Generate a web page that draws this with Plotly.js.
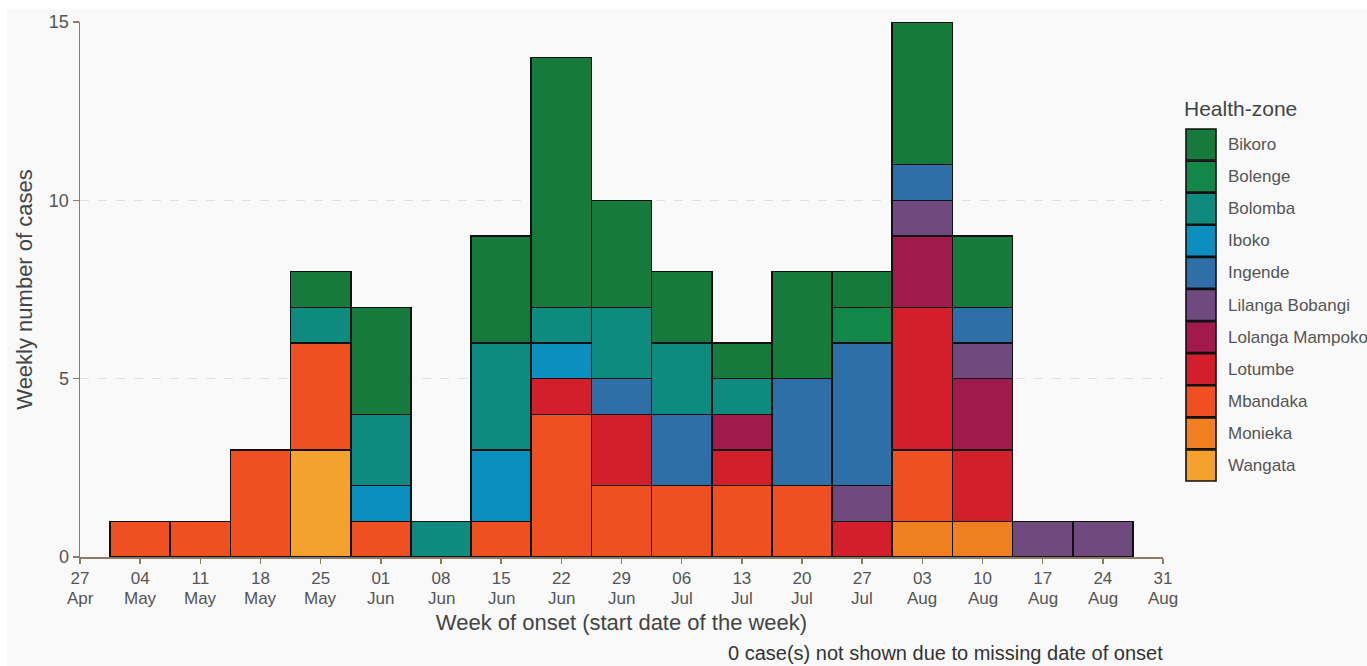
<!DOCTYPE html>
<html>
<head>
<meta charset="utf-8">
<script src="https://cdn.plot.ly/plotly-3.0.1.min.js"></script>
<style>html,body{margin:0;padding:0;background:#fff;}#chart{width:1367px;height:666px;}</style>
</head>
<body>
<div id="chart"></div>
<script>
// ---- Data ----
const weeks = ['2020-05-04','2020-05-11','2020-05-18','2020-05-25','2020-06-01','2020-06-08','2020-06-15','2020-06-22','2020-06-29','2020-07-06','2020-07-13','2020-07-20','2020-07-27','2020-08-03','2020-08-10','2020-08-17','2020-08-24'];

const tickDates = ['2020-04-27','2020-05-04','2020-05-11','2020-05-18','2020-05-25','2020-06-01','2020-06-08','2020-06-15','2020-06-22','2020-06-29','2020-07-06','2020-07-13','2020-07-20','2020-07-27','2020-08-03','2020-08-10','2020-08-17','2020-08-24','2020-08-31'];
const tickDays   = ['27','04','11','18','25','01','08','15','22','29','06','13','20','27','03','10','17','24','31'];
const tickMonths = ['Apr','May','May','May','May','Jun','Jun','Jun','Jun','Jun','Jul','Jul','Jul','Jul','Aug','Aug','Aug','Aug','Aug'];

const zones = ['Bikoro','Bolenge','Bolomba','Iboko','Ingende','Lilanga Bobangi','Lolanga Mampoko','Lotumbe','Mbandaka','Monieka','Wangata'];
const zoneColors = ['#177a3d','#13874a','#0e8a7e','#0a8fbe','#2f6fa8','#6e4a7e','#a11a4b','#d21f2b','#ef5022','#f07f22','#f4a12d'];

const bikoro         = [0,0,0,1,3,0,3,7,3,2,1,3,1,4,2,0,0];
const bolenge        = [0,0,0,0,0,0,0,0,0,0,0,0,1,0,0,0,0];
const bolomba        = [0,0,0,1,2,1,3,1,2,2,1,0,0,0,0,0,0];
const iboko          = [0,0,0,0,1,0,2,1,0,0,0,0,0,0,0,0,0];
const ingende        = [0,0,0,0,0,0,0,0,1,2,0,3,4,1,1,0,0];
const lilangaBobangi = [0,0,0,0,0,0,0,0,0,0,0,0,1,1,1,1,1];
const lolangaMampoko = [0,0,0,0,0,0,0,0,0,0,1,0,0,2,2,0,0];
const lotumbe        = [0,0,0,0,0,0,0,1,2,0,1,0,1,4,2,0,0];
const mbandaka       = [1,1,3,3,1,0,1,4,2,2,2,2,0,2,0,0,0];
const monieka        = [0,0,0,0,0,0,0,0,0,0,0,0,0,1,1,0,0];
const wangata        = [0,0,0,3,0,0,0,0,0,0,0,0,0,0,0,0,0];

const zoneValues = [bikoro,bolenge,bolomba,iboko,ingende,lilangaBobangi,lolangaMampoko,lotumbe,mbandaka,monieka,wangata];

const yTicks = [0,5,10,15];
const missingNote = '0 case(s) not shown due to missing date of onset';

// ---- Build ----
const FONT = 'Liberation Sans, Arial, sans-serif';
const WEEK_MS = 7*24*3600*1000;
const traces = [];
for (let i = zones.length-1; i >= 0; i--) {
  traces.push({
    type:'bar', name: zones[i], x: weeks,
    y: zoneValues[i].map(v => v === 0 ? null : v),
    width: weeks.map(() => WEEK_MS),
    marker:{color: zoneColors[i], line:{color:'#111', width:1.6}},
    showlegend:false, hoverinfo:'x+y+name'
  });
}

const L=80, R=1163, T=22, B=557;
const px = p => (p-L)/(R-L);
const py = p => (B-p)/(B-T);

const shapes = [
  {type:'rect', xref:'paper', yref:'paper', x0:px(0), x1:px(1367), y0:py(0), y1:py(9), fillcolor:'#ffffff', line:{width:0}, layer:'below'},
  {type:'rect', xref:'paper', yref:'paper', x0:px(0), x1:px(7), y0:py(666), y1:py(0), fillcolor:'#ffffff', line:{width:0}, layer:'below'}
];
const annotations = [];
// month row of the x tick labels, placed through the x axis scale
tickDates.forEach((d,i) => {
  annotations.push({xref:'x', yref:'paper', x:d, y:py(598), xanchor:'center', yanchor:'middle',
    text:tickMonths[i], showarrow:false, font:{family:FONT, size:17, color:'#555'}});
});
// legend
const step = 32.1, sw0 = 129, swH = 31;
zones.forEach((z,i) => {
  const top = sw0 + i*step;
  shapes.push({type:'rect', xref:'paper', yref:'paper', x0:px(1186), x1:px(1216), y0:py(top+swH), y1:py(top),
    fillcolor: zoneColors[i], line:{color:'#111', width:1.6}});
  annotations.push({xref:'paper', yref:'paper', x:px(1226), y:py(top+swH/2), xanchor:'left', yanchor:'middle',
    text:z, showarrow:false, font:{family:FONT, size:17, color:'#555'}});
});
annotations.push({xref:'paper', yref:'paper', x:px(1182), y:py(109), xanchor:'left', yanchor:'middle',
  text:'Health-zone', showarrow:false, font:{family:FONT, size:21, color:'#444'}});
annotations.push({xref:'paper', yref:'paper', x:px(1165), y:py(653), xanchor:'right', yanchor:'middle',
  text:missingNote, showarrow:false, font:{family:FONT, size:20, color:'#333'}});

const axisCol = '#8f7a66';
const layout = {
  width:1367, height:666,
  margin:{l:L, r:1367-R, t:T, b:666-B, pad:0},
  paper_bgcolor:'#f9f9f9', plot_bgcolor:'#f9f9f9',
  barmode:'stack', bargap:0,
  font:{family:FONT, color:'#555'},
  xaxis:{
    type:'date', range:['2020-04-27','2020-08-31'],
    tickmode:'array', tickvals:tickDates, ticktext:tickDays,
    tickfont:{size:17, color:'#555'},
    showline:true, linecolor:axisCol, linewidth:1.5,
    ticks:'outside', ticklen:5, tickcolor:axisCol, tickwidth:1.5,
    showgrid:false, zeroline:false,
    title:{text:'Week of onset (start date of the week)', font:{size:22, color:'#444'}, standoff:27}
  },
  yaxis:{
    range:[0,15], tickmode:'array', tickvals:yTicks,
    tickfont:{size:18, color:'#555'},
    showline:true, linecolor:axisCol, linewidth:1.5,
    ticks:'outside', ticklen:6, tickcolor:axisCol, tickwidth:1.5,
    showgrid:true, gridcolor:'#e0e0e0', griddash:'dash', gridwidth:1,
    zeroline:false,
    title:{text:'Weekly number of cases', font:{size:22, color:'#444'}, standoff:10}
  },
  shapes: shapes,
  annotations: annotations,
  showlegend:false
};

Plotly.newPlot('chart', traces, layout, {displayModeBar:false, staticPlot:true});
</script>
</body>
</html>
